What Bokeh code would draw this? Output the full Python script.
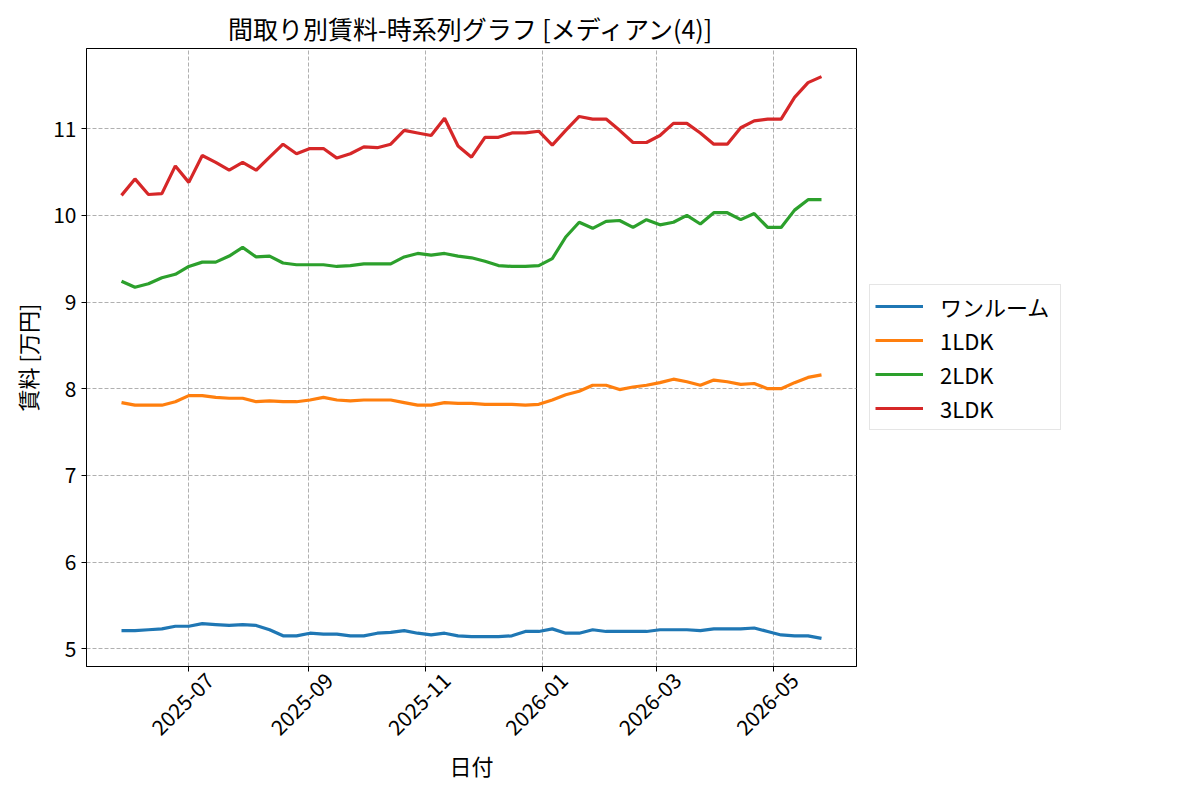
import math

import pandas as pd
from bokeh.embed import file_html
from bokeh.layouts import column, row
from bokeh.models import (ColumnDataSource, DatetimeAxis, DatetimeTickFormatter,
                          FixedTicker, Legend, LegendItem, Range1d,
                          SingleIntervalTicker, Spacer)
from bokeh.plotting import figure
from bokeh.resources import INLINE

FONT = "Noto Sans CJK JP"

# weekly median rent (万円) per floor plan
dates = pd.date_range("2025-05-27", periods=53, freq="7D")

one_room = [5.21, 5.21, 5.22, 5.23, 5.26, 5.26, 5.29, 5.28, 5.27, 5.28,
            5.27, 5.22, 5.15, 5.15, 5.18, 5.17, 5.17, 5.15, 5.15, 5.18,
            5.19, 5.21, 5.18, 5.16, 5.18, 5.15, 5.14, 5.14, 5.14, 5.15,
            5.20, 5.20, 5.23, 5.18, 5.18, 5.22, 5.20, 5.20, 5.20, 5.20,
            5.22, 5.22, 5.22, 5.21, 5.23, 5.23, 5.23, 5.24, 5.20, 5.16,
            5.15, 5.15, 5.12]
ldk1 = [7.84, 7.81, 7.81, 7.81, 7.85, 7.92, 7.92, 7.90, 7.89, 7.89,
        7.85, 7.86, 7.85, 7.85, 7.87, 7.90, 7.87, 7.86, 7.87, 7.87,
        7.87, 7.84, 7.81, 7.81, 7.84, 7.83, 7.83, 7.82, 7.82, 7.82,
        7.81, 7.82, 7.87, 7.93, 7.97, 8.04, 8.04, 7.99, 8.02, 8.04,
        8.07, 8.11, 8.08, 8.04, 8.10, 8.08, 8.05, 8.06, 8.00, 8.00,
        8.07, 8.13, 8.16]
ldk2 = [9.24, 9.17, 9.21, 9.28, 9.32, 9.41, 9.46, 9.46, 9.53, 9.63,
        9.52, 9.53, 9.45, 9.43, 9.43, 9.43, 9.41, 9.42, 9.44, 9.44,
        9.44, 9.52, 9.56, 9.54, 9.56, 9.53, 9.51, 9.47, 9.42, 9.41,
        9.41, 9.42, 9.50, 9.75, 9.92, 9.85, 9.93, 9.94, 9.86, 9.95,
        9.89, 9.92, 10.00, 9.90, 10.03, 10.03, 9.95, 10.02, 9.86, 9.86,
        10.06, 10.18, 10.18]
ldk3 = [10.23, 10.42, 10.24, 10.25, 10.57, 10.38, 10.69, 10.61, 10.52, 10.61,
        10.52, 10.67, 10.82, 10.71, 10.77, 10.77, 10.66, 10.71, 10.79, 10.78,
        10.82, 10.98, 10.95, 10.92, 11.12, 10.80, 10.67, 10.90, 10.90, 10.95,
        10.95, 10.97, 10.81, 10.98, 11.14, 11.11, 11.11, 10.98, 10.84, 10.84,
        10.92, 11.06, 11.06, 10.95, 10.82, 10.82, 11.01, 11.09, 11.11, 11.11,
        11.36, 11.53, 11.60]

tick_months = ["2025-07", "2025-09", "2025-11", "2026-01", "2026-03", "2026-05"]

series = [("ワンルーム", "one_room", "#1f77b4"),
          ("1LDK", "ldk1", "#ff7f0e"),
          ("2LDK", "ldk2", "#2ca02c"),
          ("3LDK", "ldk3", "#d62728")]

source = ColumnDataSource(data=dict(date=dates, one_room=one_room,
                                    ldk1=ldk1, ldk2=ldk2, ldk3=ldk3))

# matplotlib-like 5% margins
x0, x1 = dates[0], dates[-1]
xpad = (x1 - x0) * 0.05
all_vals = one_room + ldk1 + ldk2 + ldk3
lo, hi = min(all_vals), max(all_vals)
ypad = (hi - lo) * 0.05

# bokeh right-aligns rotated labels at the tick; a shifted range for the
# label axis puts each label's centre on its tick like matplotlib does
shift = pd.Timedelta(days=11)

p = figure(frame_width=770, frame_height=618,
           x_axis_type="datetime",
           x_range=Range1d(x0 - xpad, x1 + xpad),
           y_range=Range1d(lo - ypad, hi + ypad),
           title="間取り別賃料-時系列グラフ [メディアン(4)]",
           output_backend="svg", toolbar_location=None)
p.extra_x_ranges = {"labels": Range1d(x0 - xpad - shift, x1 + xpad - shift)}

p.title.align = "center"
p.title.text_font = FONT
p.title.text_font_size = "25px"
p.title.text_font_style = "normal"
p.title.text_color = "black"
p.title.standoff = 6

p.outline_line_color = "black"
p.outline_line_width = 1

items = []
for label, col, color in series:
    r = p.line("date", col, source=source, line_color=color, line_width=3.2)
    items.append(LegendItem(label=label, renderers=[r]))

tick_ms = [pd.Timestamp(m + "-01").timestamp() * 1000 for m in tick_months]
p.xaxis.ticker = FixedTicker(ticks=tick_ms)
p.yaxis.ticker = SingleIntervalTicker(interval=1, num_minor_ticks=0)

fmt = "%Y-%m"
label_axis = DatetimeAxis(x_range_name="labels", ticker=FixedTicker(ticks=tick_ms),
                          formatter=DatetimeTickFormatter(days=fmt, months=fmt, years=fmt))
p.add_layout(label_axis, "below")

p.yaxis.axis_label = "賃料 [万円]"
label_axis.axis_label = "日付"

for ax in (p.xaxis[0], label_axis, p.yaxis[0]):
    ax.axis_label_text_font = FONT
    ax.axis_label_text_font_size = "22px"
    ax.axis_label_text_font_style = "normal"
    ax.axis_label_text_color = "black"
    ax.major_label_text_font = FONT
    ax.major_label_text_font_size = "21px"
    ax.major_label_text_color = "black"
    ax.axis_line_color = "black"
    ax.major_tick_line_color = "black"
    ax.major_tick_out = 5
    ax.major_tick_in = 0
    ax.minor_tick_line_color = None
    ax.major_label_standoff = 5

# main x axis only draws the ticks
p.xaxis[0].major_label_text_font_size = "1px"
p.xaxis[0].major_label_text_color = None
p.xaxis[0].major_label_standoff = 0

label_axis.axis_line_color = None
label_axis.major_tick_line_color = None
label_axis.major_tick_out = 0
label_axis.major_label_orientation = math.pi / 4
label_axis.major_label_standoff = 5
label_axis.axis_label_standoff = 4

p.yaxis.axis_label_standoff = 7

p.grid.grid_line_color = "#b0b0b0"
p.grid.grid_line_dash = "4 2"
p.grid.grid_line_width = 1

legend = Legend(items=items, location="center_left")
legend.margin = 13
legend.padding = 5
legend.spacing = 2
legend.glyph_width = 48
legend.glyph_height = 30
legend.label_height = 30
legend.label_width = 115
legend.label_standoff = 17
legend.label_text_font = FONT
legend.label_text_font_size = "22px"
legend.label_text_color = "black"
legend.border_line_color = "#cccccc"
legend.border_line_width = 1
legend.background_fill_alpha = 0.8
p.add_layout(legend, "right")

page = column(Spacer(width=10, height=4), row(Spacer(width=8, height=10), p))

open("out.html", "w").write(file_html(page, INLINE))
